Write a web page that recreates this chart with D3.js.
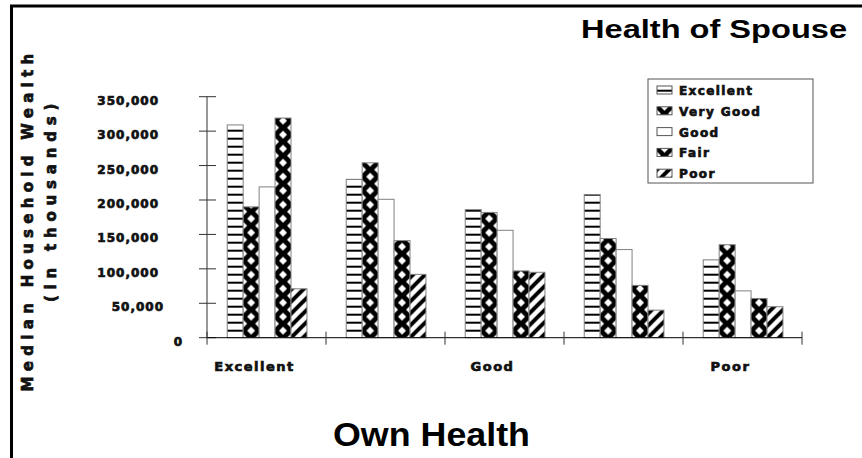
<!DOCTYPE html>
<html>
<head>
<meta charset="utf-8">
<script src="https://cdn.jsdelivr.net/npm/d3@7"></script>
<style>
  body { margin: 0; background: #fff; }
  svg { display: block; }
  .heavy { font-family: "DejaVu Sans", sans-serif; font-weight: bold; stroke: #111; stroke-width: 0.7px; }
  .arial { font-family: "Liberation Sans", Arial, sans-serif; font-weight: bold; }
</style>
</head>
<body>
<div id="chart"></div>
<script>
// 数据 - 图表的类别和数值
const categories = ['Excellent', 'Very Good', 'Good', 'Fair', 'Poor'];
const shownLabels = ['Excellent', 'Good', 'Poor'];
const seriesNames = ['Excellent', 'Very Good', 'Good', 'Fair', 'Poor'];
const excellentValues = [309000, 230000, 186000, 208000, 113000];
const veryGoodValues  = [190000, 254000, 182000, 144000, 135000];
const goodValues      = [219000, 201000, 156000, 128000, 68000];
const fairValues      = [319000, 141000, 97000, 76000, 57000];
const poorValues      = [71000, 92000, 95000, 40000, 45000];
const yTicks = [0, 50000, 100000, 150000, 200000, 250000, 300000, 350000];

const seriesValues = [excellentValues, veryGoodValues, goodValues, fairValues, poorValues];
const fillType = ['hstripe', 'diamond', 'plain', 'diamond', 'diag'];

const width = 862, height = 458;
const plot = { left: 207, right: 802, top: 96.7, bottom: 337.7 };

const svg = d3.select('#chart').append('svg')
  .attr('width', width).attr('height', height);
const defs = svg.append('defs');

// 外框
svg.append('rect')
  .attr('x', 11.5).attr('y', 6)
  .attr('width', 900).attr('height', 500)
  .attr('fill', 'none').attr('stroke', '#000').attr('stroke-width', 3);

const x0 = d3.scaleBand().domain(categories).range([plot.left, plot.right]);
const x1 = d3.scaleBand().domain(seriesNames)
  .range([x0.bandwidth() * 0.17, x0.bandwidth() * 0.84]);
const y = d3.scaleLinear().domain([0, 350000]).range([plot.bottom, plot.top]);

// 图案 - 每个柱子单独定义，使图案与柱子左边对齐
function makePattern(id, type, px, w) {
  if (type === 'hstripe') {
    const p = defs.append('pattern').attr('id', id)
      .attr('patternUnits', 'userSpaceOnUse')
      .attr('x', px).attr('y', plot.bottom).attr('width', w).attr('height', 8);
    p.append('rect').attr('width', w).attr('height', 8).attr('fill', '#fff');
    p.append('rect').attr('y', 0).attr('width', w).attr('height', 2).attr('fill', '#000');
  } else if (type === 'diamond') {
    const h = 14;
    const p = defs.append('pattern').attr('id', id)
      .attr('patternUnits', 'userSpaceOnUse')
      .attr('x', px).attr('y', plot.bottom).attr('width', w).attr('height', h);
    p.append('rect').attr('width', w).attr('height', h).attr('fill', '#000');
    const dx = 4, dy = 4;
    const centers = [[w / 2, h / 2], [0, 0], [w, 0], [0, h], [w, h]];
    centers.forEach(([cx, cy]) => {
      p.append('path')
        .attr('d', `M${cx},${cy - dy}L${cx + dx},${cy}L${cx},${cy + dy}L${cx - dx},${cy}Z`)
        .attr('fill', '#fff');
    });
  } else if (type === 'diag') {
    const s = 12;
    const p = defs.append('pattern').attr('id', id)
      .attr('patternUnits', 'userSpaceOnUse')
      .attr('x', px).attr('y', plot.bottom).attr('width', s).attr('height', s);
    p.append('rect').attr('width', s).attr('height', s).attr('fill', '#fff');
    p.append('path')
      .attr('d', `M0,${s}L${s},0M${-s / 2},${s / 2}L${s / 2},${-s / 2}M${s / 2},${s * 1.5}L${s * 1.5},${s / 2}`)
      .attr('stroke', '#000').attr('stroke-width', 4);
  }
  return type === 'plain' ? '#fff' : `url(#${id})`;
}

// 柱子
const barData = [];
categories.forEach((cat, ci) => {
  seriesNames.forEach((s, si) => {
    barData.push({ cat, s, si, ci, value: seriesValues[si][ci] });
  });
});

svg.append('g').attr('class', 'bars')
  .selectAll('rect')
  .data(barData)
  .enter()
  .append('rect')
  .attr('x', d => x0(d.cat) + x1(d.s))
  .attr('y', d => y(d.value))
  .attr('width', x1.bandwidth())
  .attr('height', d => y(0) - y(d.value))
  .attr('fill', d => makePattern(`p${d.ci}_${d.si}`, fillType[d.si], x0(d.cat) + x1(d.s), x1.bandwidth()))
  .attr('stroke', '#808080')
  .attr('stroke-width', 1);

// Y 轴
const yAxis = svg.append('g').attr('transform', `translate(${plot.left},0)`);
yAxis.append('line')
  .attr('x1', 0).attr('x2', 0)
  .attr('y1', y(350000)).attr('y2', y(0))
  .attr('stroke', '#333');
yAxis.selectAll('.tick')
  .data(yTicks)
  .enter()
  .append('line')
  .attr('x1', -8).attr('x2', 9)
  .attr('y1', d => y(d)).attr('y2', d => y(d))
  .attr('stroke', '#333');

svg.append('g').selectAll('text')
  .data(yTicks)
  .enter()
  .append('text')
  .attr('class', 'heavy')
  .attr('x', d => d === 0 ? 183 : (d === 50000 ? 164 : 159))
  .attr('y', d => y(d) + 8)
  .attr('text-anchor', 'end')
  .attr('font-size', '12px')
  .attr('letter-spacing', '1px')
  .attr('fill', '#111')
  .text(d => d3.format(',')(d));

// X 轴
const xAxis = svg.append('g');
xAxis.append('line')
  .attr('x1', plot.left).attr('x2', plot.right)
  .attr('y1', y(0)).attr('y2', y(0))
  .attr('stroke', '#000');
const boundaries = categories.map(c => x0(c)).concat([plot.right]);
xAxis.selectAll('.xtick')
  .data(boundaries)
  .enter()
  .append('line')
  .attr('x1', d => d).attr('x2', d => d)
  .attr('y1', y(0) - 6).attr('y2', y(0) + 7)
  .attr('stroke', '#333');

xAxis.selectAll('.xlabel')
  .data(shownLabels)
  .enter()
  .append('text')
  .attr('class', 'heavy')
  .attr('x', d => x0(d) + x0.bandwidth() / 2 - 12)
  .attr('y', 371)
  .attr('text-anchor', 'middle')
  .attr('font-size', '13px')
  .attr('letter-spacing', '1.5px')
  .attr('fill', '#111')
  .text(d => d);

// 图例
const legend = svg.append('g').attr('class', 'legend');
legend.append('rect')
  .attr('x', 648).attr('y', 79)
  .attr('width', 165).attr('height', 104)
  .attr('fill', '#fff').attr('stroke', '#555').attr('stroke-width', 1);

seriesNames.forEach((s, i) => {
  const ly = 90 + i * 20.8;
  legend.append('rect')
    .attr('x', 657).attr('y', ly - 4)
    .attr('width', 15).attr('height', 8)
    .attr('fill', makePattern(`lg${i}`, fillType[i], 657, 15))
    .attr('stroke', '#555').attr('stroke-width', 1);
  legend.append('text')
    .attr('class', 'heavy')
    .attr('x', 679).attr('y', ly + 5)
    .attr('font-size', '12px')
    .attr('letter-spacing', '1.4px')
    .attr('fill', '#111')
    .text(s);
});

// 标题
svg.append('text')
  .attr('class', 'arial')
  .attr('x', 847).attr('y', 38)
  .attr('text-anchor', 'end')
  .attr('font-size', '26px')
  .attr('textLength', 266)
  .attr('lengthAdjust', 'spacingAndGlyphs')
  .text('Health of Spouse');

svg.append('text')
  .attr('class', 'arial')
  .attr('x', 333).attr('y', 446)
  .attr('font-size', '33px')
  .attr('textLength', 197)
  .attr('lengthAdjust', 'spacingAndGlyphs')
  .text('Own Health');

// Y 轴标题
const yTitle = svg.append('g');
yTitle.append('text')
  .attr('class', 'heavy')
  .attr('transform', 'translate(33,220) rotate(-90)')
  .attr('text-anchor', 'middle')
  .attr('font-size', '15px')
  .attr('letter-spacing', '5.3px')
  .attr('fill', '#111')
  .text('Median Household Wealth');
yTitle.append('text')
  .attr('class', 'heavy')
  .attr('transform', 'translate(56,200) rotate(-90)')
  .attr('text-anchor', 'middle')
  .attr('font-size', '15px')
  .attr('letter-spacing', '5.8px')
  .attr('fill', '#111')
  .text('(in thousands)');
</script>
</body>
</html>
